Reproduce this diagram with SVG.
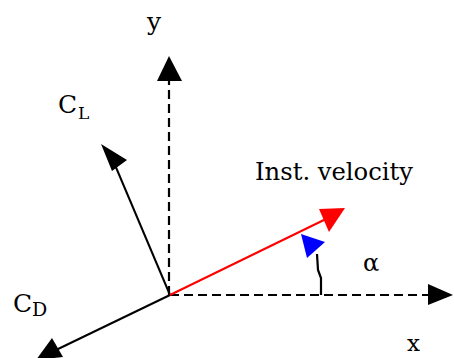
<svg xmlns="http://www.w3.org/2000/svg" width="454" height="358" viewBox="0 0 454 358">
<style>
text{font-family:"DejaVu Serif","Liberation Serif",serif;fill:#000}
.axis{stroke:#000;stroke-width:2.2;stroke-dasharray:9 5;fill:none}
.vec{stroke:#000;stroke-width:2;fill:none}
</style>
<rect width="454" height="358" fill="#fff"/>
<g id="connectors">
<line class="axis" x1="169" y1="295" x2="169" y2="80"/>
<polygon points="169,56 157,81 182,81" fill="#000"/>
<line class="axis" x1="170" y1="295" x2="430" y2="295"/>
<polygon points="453,295 428,284 428,305" fill="#000"/>
<line class="vec" x1="170" y1="295" x2="115" y2="165"/>
<polygon points="101,144 127,160 112,171" fill="#000"/>
<line class="vec" x1="170" y1="295" x2="56" y2="350"/>
<polygon points="36,360 52,338 63,357" fill="#000"/>
<line x1="170" y1="295" x2="328" y2="218" stroke="#f00" stroke-width="2"/>
<polygon points="345,208 319,209 329,232" fill="#f00"/>
<path d="M321,295 L321,278 L318,270 L317,254" stroke="#000" stroke-width="2.2" fill="none"/>
<polygon points="301,234 325,242 307,258" fill="#00f"/>
</g>
<g id="label-y"><text x="147" y="30" font-size="25">y</text></g>
<g id="label-CL"><text x="58" y="113" font-size="25">C</text><text x="78" y="119" font-size="17">L</text></g>
<g id="label-CD"><text x="13" y="312" font-size="25">C</text><text x="32" y="316" font-size="19">D</text></g>
<g id="label-velocity"><text x="255" y="180" font-size="24" textLength="158" lengthAdjust="spacingAndGlyphs">Inst. velocity</text></g>
<g id="label-alpha"><text x="363" y="271" font-size="24">α</text></g>
<g id="label-x"><text x="407" y="351" font-size="23">x</text></g>
</svg>
